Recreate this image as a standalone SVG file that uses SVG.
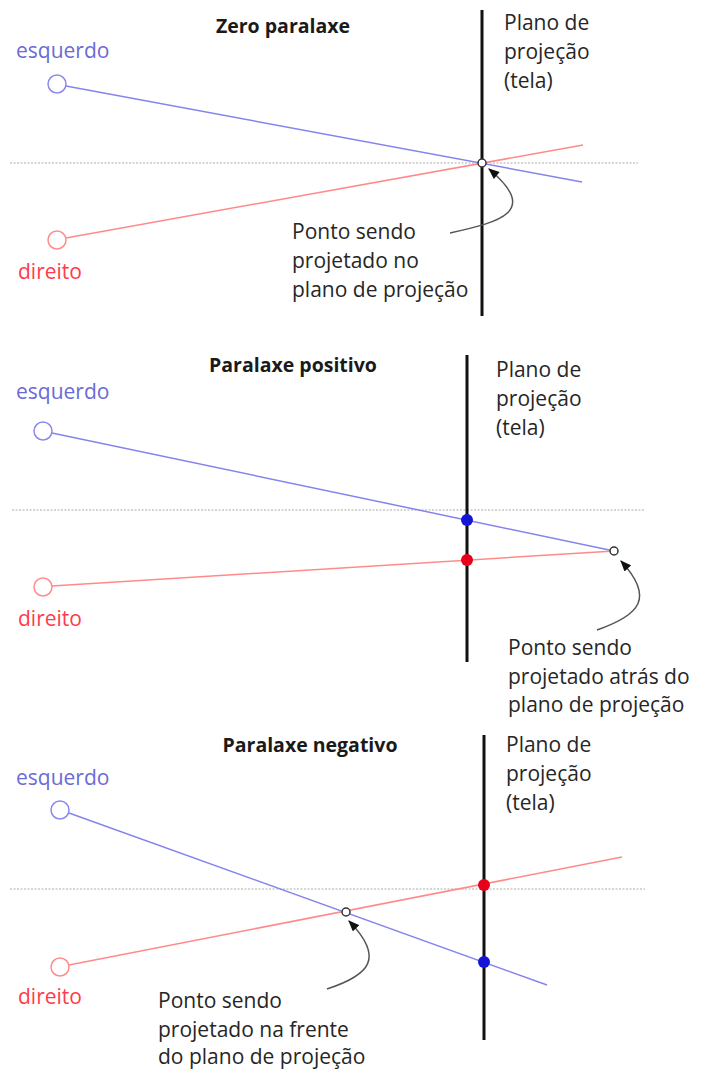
<svg xmlns="http://www.w3.org/2000/svg" width="705" height="1070" viewBox="0 0 705 1070">
<defs>
<marker id="ah" viewBox="0 0 10 8" refX="9" refY="4" markerWidth="12" markerHeight="9" markerUnits="userSpaceOnUse" orient="auto">
<path d="M0,0 L10,4 L0,8 z" fill="#111"/>
</marker>
<style>
.t{font-family:"Open Sans","Liberation Sans",sans-serif;font-size:21px;fill:#262626}
.title{font-family:"Open Sans","Liberation Sans",sans-serif;font-size:19.5px;font-weight:bold;fill:#1a1a1a}
.left{font-family:"Open Sans","Liberation Sans",sans-serif;font-size:21px;fill:#6a6ad8}
.right{font-family:"Open Sans","Liberation Sans",sans-serif;font-size:21px;fill:#ff3b4a}
.dot{stroke:#c8c8c8;stroke-width:1.5;stroke-dasharray:2 1.5;fill:none}
.plane{stroke:#111;stroke-width:3;fill:none}
.bl{stroke:#8484ee;stroke-width:1.5;fill:none}
.rl{stroke:#ff8a8a;stroke-width:1.5;fill:none}
.eyeL{fill:#fff;stroke:#8a8aee;stroke-width:1.5}
.eyeR{fill:#fff;stroke:#ff8c8c;stroke-width:1.5}
.pt{fill:#fff;stroke:#333;stroke-width:1.5}
.bd{fill:#1515d8}
.rd{fill:#e8001a}
.arr{stroke:#555;stroke-width:1.5;fill:none;marker-end:url(#ah)}
</style>
</defs>

<g id="connectors">
<!-- panel 1 -->
<line class="dot" x1="10" y1="163" x2="638" y2="163"/>
<line class="plane" x1="482" y1="10" x2="482" y2="316"/>
<line class="bl" x1="66" y1="86" x2="582" y2="182"/>
<line class="rl" x1="66" y1="238" x2="583" y2="145"/>
<path class="arr" d="M450,233 C500,222 540,212 489,169"/>
<!-- panel 2 -->
<line class="dot" x1="12" y1="510" x2="645" y2="510"/>
<line class="plane" x1="467" y1="355" x2="467" y2="662"/>
<line class="bl" x1="52" y1="433" x2="614" y2="551"/>
<line class="rl" x1="52" y1="586" x2="614" y2="551"/>
<path class="arr" d="M597,630 C640,615 655,598 621,561"/>
<!-- panel 3 -->
<line class="dot" x1="10" y1="889" x2="645" y2="889"/>
<line class="plane" x1="484" y1="735" x2="484" y2="1040"/>
<line class="bl" x1="69" y1="813" x2="547" y2="985"/>
<line class="rl" x1="69" y1="965" x2="622" y2="857"/>
<path class="arr" d="M327,989 C370,975 385,958 349,921"/>
</g>

<g id="panel1">
<text class="title" x="283" y="33" text-anchor="middle">Zero paralaxe</text>
<g id="p1-left"><circle class="eyeL" cx="57" cy="84" r="9"/><text class="left" x="16" y="58">esquerdo</text></g>
<g id="p1-right"><circle class="eyeR" cx="57" cy="240" r="9"/><text class="right" x="18" y="279">direito</text></g>
<g id="p1-plane"><text class="t" x="504" y="30">Plano de</text><text class="t" x="504" y="59">projeção</text><text class="t" x="504" y="88">(tela)</text></g>
<g id="p1-point"><circle class="pt" cx="482" cy="163" r="4"/></g>
<g id="p1-callout"><text class="t" x="292" y="239">Ponto sendo</text><text class="t" x="292" y="268">projetado no</text><text class="t" x="292" y="297">plano de projeção</text></g>
</g>

<g id="panel2">
<text class="title" x="293" y="372" text-anchor="middle">Paralaxe positivo</text>
<g id="p2-left"><circle class="eyeL" cx="43" cy="431" r="9"/><text class="left" x="16" y="399">esquerdo</text></g>
<g id="p2-right"><circle class="eyeR" cx="43" cy="587" r="9"/><text class="right" x="18" y="626">direito</text></g>
<g id="p2-plane"><text class="t" x="496" y="377">Plano de</text><text class="t" x="496" y="406">projeção</text><text class="t" x="496" y="435">(tela)</text></g>
<g id="p2-blue"><circle class="bd" cx="467" cy="520" r="6"/></g>
<g id="p2-red"><circle class="rd" cx="467" cy="560" r="6"/></g>
<g id="p2-point"><circle class="pt" cx="614" cy="551" r="4"/></g>
<g id="p2-callout"><text class="t" x="508" y="655">Ponto sendo</text><text class="t" x="508" y="684">projetado atrás do</text><text class="t" x="508" y="712">plano de projeção</text></g>
</g>

<g id="panel3">
<text class="title" x="310" y="752" text-anchor="middle">Paralaxe negativo</text>
<g id="p3-left"><circle class="eyeL" cx="60" cy="810" r="9"/><text class="left" x="16" y="785">esquerdo</text></g>
<g id="p3-right"><circle class="eyeR" cx="60" cy="967" r="9"/><text class="right" x="18" y="1004">direito</text></g>
<g id="p3-plane"><text class="t" x="506" y="752">Plano de</text><text class="t" x="506" y="781">projeção</text><text class="t" x="506" y="810">(tela)</text></g>
<g id="p3-red"><circle class="rd" cx="484" cy="885" r="6"/></g>
<g id="p3-blue"><circle class="bd" cx="484" cy="962" r="6"/></g>
<g id="p3-point"><circle class="pt" cx="346" cy="912" r="4"/></g>
<g id="p3-callout"><text class="t" x="158" y="1008">Ponto sendo</text><text class="t" x="158" y="1037">projetado na frente</text><text class="t" x="158" y="1064">do plano de projeção</text></g>
</g>
</svg>
